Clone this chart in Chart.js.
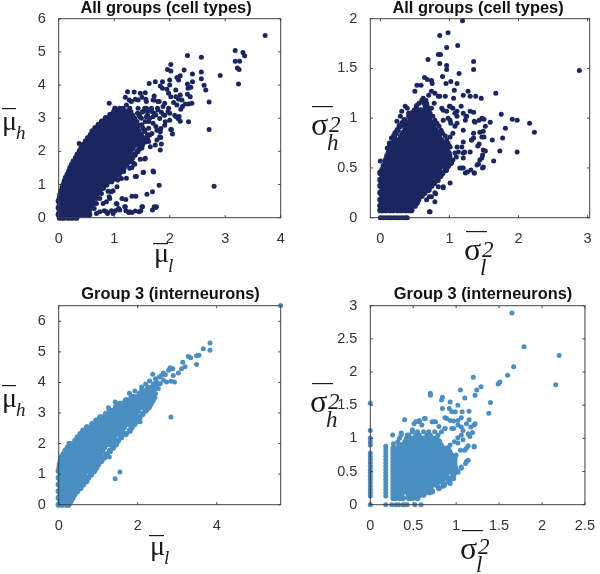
<!DOCTYPE html>
<html>
<head>
<meta charset="utf-8">
<script src="https://cdn.jsdelivr.net/npm/chart.js@4"></script>
<style>
  body { margin: 0; background: #fff; }
  canvas { position: absolute; }
</style>
</head>
<body>
<canvas id="c1" width="300" height="287" style="left:0;top:0"></canvas>
<canvas id="c2" width="300" height="287" style="left:300px;top:0"></canvas>
<canvas id="c3" width="300" height="287" style="left:0;top:287px"></canvas>
<canvas id="c4" width="300" height="287" style="left:300px;top:287px"></canvas>
<script>
// dense rows are [y, x, x, x...], estimated from the solid blobs; sparse points are [x, y]
const allMuRows = [
  [0, .02,.09,.17,.24,.32],
  [.1, 0,.06,.13,.21,.28,.36,.43,.5,.55],
  [.2, .02,.09,.17,.24,.32,.39,.47,.54],
  [.3, 0,.06,.13,.21,.28,.36,.43,.51,.57],
  [.4, .02,.09,.17,.24,.32,.39,.47,.54,.58],
  [.5, 0,.06,.13,.21,.28,.36,.43,.51,.6],
  [.6, .02,.09,.17,.24,.32,.39,.47,.54,.63],
  [.7, .03,.06,.13,.21,.28,.36,.43,.51,.58,.67],
  [.8, .05,.09,.17,.24,.32,.39,.47,.54,.62,.72],
  [.9, .07,.13,.21,.28,.36,.43,.51,.58,.66,.73,.8],
  [1, .09,.17,.24,.32,.39,.47,.54,.62,.69,.77,.86],
  [1.1, .11,.13,.21,.28,.36,.43,.51,.58,.66,.73,.81,.88,.95],
  [1.2, .13,.17,.24,.32,.39,.47,.54,.62,.69,.77,.84,.92,1],
  [1.3, .16,.21,.28,.36,.43,.51,.58,.66,.73,.81,.88,.96,1.03,1.08],
  [1.4, .19,.24,.32,.39,.47,.54,.62,.69,.77,.84,.92,.99,1.07,1.12],
  [1.5, .21,.28,.36,.43,.51,.58,.66,.73,.81,.88,.96,1.03,1.11,1.17],
  [1.6, .24,.32,.39,.47,.54,.62,.69,.77,.84,.92,.99,1.07,1.14,1.22],
  [1.7, .27,.36,.43,.51,.58,.66,.73,.81,.88,.96,1.03,1.11,1.18,1.27],
  [1.8, .31,.39,.47,.54,.62,.69,.77,.84,.92,.99,1.07,1.14,1.22,1.32],
  [1.9, .34,.43,.51,.58,.66,.73,.81,.88,.96,1.03,1.11,1.18,1.26,1.37],
  [2, .38,.47,.54,.62,.69,.77,.84,.92,.99,1.07,1.14,1.22,1.29,1.42],
  [2.1, .41,.51,.58,.66,.73,.81,.88,.96,1.03,1.11,1.18,1.26,1.33,1.46],
  [2.2, .45,.54,.62,.69,.77,.84,.92,.99,1.07,1.14,1.22,1.29,1.37,1.44,1.5],
  [2.3, .49,.58,.66,.73,.81,.88,.96,1.03,1.11,1.18,1.26,1.33,1.41,1.48,1.55],
  [2.4, .53,.62,.69,.77,.84,.92,.99,1.07,1.14,1.22,1.29,1.37,1.44,1.52],
  [2.5, .58,.66,.73,.81,.88,.96,1.03,1.11,1.18,1.26,1.33,1.41,1.48],
  [2.6, .61,.69,.77,.84,.92,.99,1.07,1.14,1.22,1.29,1.37,1.44],
  [2.7, .66,.73,.81,.88,.96,1.03,1.11,1.18,1.26,1.33,1.41],
  [2.8, .72,.77,.84,.92,.99,1.07,1.14,1.22,1.29,1.37],
  [2.9, .78,.81,.88,.96,1.03,1.11,1.18,1.26,1.33],
  [3, .85,.92,.99,1.07,1.14,1.22,1.29],
  [3.1, .93,.96,1.03,1.11,1.18,1.26],
  [3.2, 1,1.07,1.14,1.22]
];
const allMuSparse = [
  [3.72,5.49],[3.18,5.04],[3.32,4.98],[3.35,4.88],[3.18,4.72],[3.26,4.72],[3.22,4.51],[3.25,4.47],[3.24,4.03],
  [2.91,4.29],[2.57,4.84],[2.57,4.39],[2.57,4.19],[2.32,4.89],[2.02,4.62],[1.96,4.47],[2.02,4.42],[2.26,4.45],
  [2.41,4.33],[2.19,4.28],[2.13,4.23],[2.16,4.15],[2.62,3.99],[2.65,3.85],[2.71,3.49],[2.71,2.66],[2.8,.95],
  [2.32,4.03],[2.41,4.1],[2.33,3.9],[2.38,3.93],[2.32,3.72],[2.37,3.65],[2.22,3.55],[2.16,3.57],[2.4,3.45],
  [2.34,3.43],[2.28,3.43],[2.23,3.35],[2.2,3.27],[2.13,3.4],[2.07,3.47],[2.02,3.65],[1.98,3.75],[1.95,3.87],
  [1.87,4.1],[1.83,3.97],[1.74,4.1],[1.63,4.05],[2,4.15],[1.87,3.9],[2,4],[2.11,3.85],[2.19,3.7],[2.11,3.65],
  [1.24,3.8],[1.36,3.79],[1.47,3.75],[1.56,3.77],[1.5,3.63],[1.2,3.63],[1.27,3.55],[1.38,3.57],[1.57,3.57],
  [1.72,3.67],[1.72,3.55],[1.81,3.5],[1.91,3.45],[1.98,3.3],[2,3.15],[2.11,3.05],[2.17,3.05],[2.19,2.91],
  [2.34,2.89],[2.02,2.66],[2.05,2.52],[1.89,3.1],[1.92,2.89],[1.84,2.69],[1.83,2.59],[1.84,2.42],[1.85,2.22],
  [1.83,2.04],[1.56,1.79],[1.53,1.37],[1.71,1.38],[1.81,.98],[1.69,.78],[1.59,.71],[1.32,.65],[1.39,.65],
  [1.21,.55],[1.14,.58],[1.72,.33],[1.75,.31],[1.69,.23],[1.5,.33],[1.48,.21],[1.38,.2],[1.32,.16],[1.26,.16],
  [1.2,.33],[1.21,.21],[1.05,.41],[1.08,.28],[1.02,.21],[.95,.21],[.88,.13],[.82,.21],[.74,.18],[.68,.13],
  [.98,.81],[.89,.8],[.91,.63],[.86,.48],[.74,.58],[.68,.43],[.71,.73],[.64,.28],[1.22,1.19],[1.17,1.39],
  [1.38,1.24],[1.32,1.51],[1.35,1.64],[1.47,1.76],[1.65,2.14],[1.74,2.19],[1.77,2.34],[1.68,2.54],[1.77,2.64],
  [1.06,1.14],[1.05,.93],[.91,3.45],[1.01,3.3],[1.22,3.4],[1.31,3.5],[1.43,3.55],[1.58,3.5],[1.7,3.55],[1.79,3.5],
  [1.88,3.35],[1.97,3.2],[2.09,3.09],[2.15,2.99],[1.43,3.3],[1.55,3.3],[1.67,3.3],[1.79,3.25],[1.91,3.09],[2,2.94],
  [1.82,2.99],[1.7,3.04],[1.58,3.04],[1.46,3.04],[1.34,3.04],[1.91,2.79],[1.79,2.64],[2.03,2.66],[1.82,2.44],
  [1.64,2.49],[1.55,2.64],[1.46,2.79],[1.34,2.89],[1.55,1.77],[1.7,1.41],[1.52,1.36],[1.37,1.61],[1.28,1.49],
  [1.16,1.42],[1.4,1.24],[1.13,1.18],[.95,.78],[.77,.73],[.68,.58],[1.76,.33],[1.51,.33],[1.45,.18],[1.28,.18],
  [1.19,.33],[1.1,.23],[1.04,.43],[.92,.58],[.8,.43],[.98,.13],[.86,.18],[.65,.43],[.37,2.24],[1.62,2.7],[1.7,2.85],
  [1.62,2.9],[1.75,2.75],[1.6,3.2],[1.72,3.15],[1.85,3.18],[1.5,3.18],[1.42,3.15],[1.58,2.4],[1.62,2.3],[1.5,2.1],
  [1.02,3.3],[1.1,3.3],[1.16,3.3],[1.28,3.3],[1.58,3.3],[1.78,3.3],[1.3,3.2],[1.52,3.2],[1.68,3.2],[1.33,3.1],[1.45,3.1],
  [1.6,3.1],[1.75,3.1],[1.37,3],[1.49,3],[1.64,3],[1.41,2.9],[1.56,2.9],[1.5,2.8],[1.52,2.7],[1.55,2.6],[1.6,2.5],[1.6,2.4]
];

const allVarRows = [
  [.075, 0,.03,.08,.14,.19,.25,.3,.36,.41,.45],
  [.12, 0,.05,.11,.16,.22,.27,.33,.38,.44,.5],
  [.15, .03,.08,.14,.19,.25,.3,.36,.41,.47,.53],
  [.18, 0,.05,.11,.16,.22,.27,.33,.38,.44,.49,.55],
  [.22, .03,.08,.14,.19,.25,.3,.36,.41,.47,.52,.6],
  [.25, 0,.05,.11,.16,.22,.27,.33,.38,.44,.49,.55,.64],
  [.28, .03,.08,.14,.19,.25,.3,.36,.41,.47,.52,.58,.63,.7],
  [.32, 0,.05,.11,.16,.22,.27,.33,.38,.44,.49,.55,.6,.66,.74],
  [.35, .03,.08,.14,.19,.25,.3,.36,.41,.47,.52,.58,.63,.69,.78],
  [.38, 0,.05,.11,.16,.22,.27,.33,.38,.44,.49,.55,.6,.66,.71,.77,.83],
  [.42, .03,.08,.14,.19,.25,.3,.36,.41,.47,.52,.58,.63,.69,.74,.8,.87],
  [.45, 0,.05,.11,.16,.22,.27,.33,.38,.44,.49,.55,.6,.66,.71,.77,.82,.9],
  [.48, .03,.08,.14,.19,.25,.3,.36,.41,.47,.52,.58,.63,.69,.74,.8,.85,.95],
  [.52, .05,.11,.16,.22,.27,.33,.38,.44,.49,.55,.6,.66,.71,.77,.82,.88,.93,.98],
  [.55, .08,.14,.19,.25,.3,.36,.41,.47,.52,.58,.63,.69,.74,.8,.85,.91,.96,1.02],
  [.58, .08,.11,.16,.22,.27,.33,.38,.44,.49,.55,.6,.66,.71,.77,.82,.88,.93,.99],
  [.62, .1,.14,.19,.25,.3,.36,.41,.47,.52,.58,.63,.69,.74,.8,.85,.91,.96,1],
  [.65, .12,.16,.22,.27,.33,.38,.44,.49,.55,.6,.66,.71,.77,.82,.88,.93,.99],
  [.68, .13,.19,.25,.3,.36,.41,.47,.52,.58,.63,.69,.74,.8,.85,.91,.96],
  [.72, .15,.22,.27,.33,.38,.44,.49,.55,.6,.66,.71,.77,.82,.88,.93],
  [.75, .18,.25,.3,.36,.41,.47,.52,.58,.63,.69,.74,.8,.85,.91],
  [.78, .2,.27,.33,.38,.44,.49,.55,.6,.66,.71,.77,.82,.88],
  [.82, .2,.3,.36,.41,.47,.52,.58,.63,.69,.74,.8,.85],
  [.85, .22,.33,.38,.44,.49,.55,.6,.66,.71,.77,.82],
  [.88, .25,.36,.41,.47,.52,.58,.63,.69,.74,.8],
  [.92, .28,.38,.44,.49,.55,.6,.66,.71,.77],
  [.95, .32,.41,.47,.52,.58,.63,.69,.74],
  [.98, .35,.44,.49,.55,.6,.66,.71],
  [1.02, .42,.47,.52,.58,.63,.69],
  [1.05, .45,.49,.55,.6,.66],
  [1.08, .5,.58,.63]
];
const allVarSparse = [
  [2.88,1.48],[1.19,1.98],[.98,1.86],[.86,1.83],[1.12,1.73],[.96,1.71],[.84,1.64],[.87,1.64],[.69,1.59],[1.35,1.57],
  [.86,1.55],[.96,1.53],[.96,1.49],[1.35,1.49],[1.14,1.45],[.9,1.42],[.64,1.41],[.68,1.39],[.74,1.38],[.75,1.35],
  [.95,1.35],[1.02,1.37],[1.11,1.35],[.53,1.33],[.59,1.33],[.5,1.27],[1.07,1.28],[1.27,1.27],[1.67,1.25],[1.2,1.23],
  [1.3,1.22],[1.38,1.22],[1.46,1.2],[1.06,1.2],[.94,1.22],[.86,1.22],[.79,1.25],[.74,1.27],[1.17,1.12],[1.05,1.1],
  [1,1.12],[.89,1.1],[1.3,1.07],[1.35,1.06],[1.11,1.07],[.96,1.07],[1.75,1.04],[1.24,1.02],[1.11,1.02],[1.47,1],
  [1.43,.98],[1.5,.99],[1.91,.99],[1.98,.98],[2.16,.95],[2.23,.86],[1.81,.9],[1.59,.96],[1.36,.97],[1.23,.98],
  [1.52,.92],[1.2,.88],[1.49,.87],[1.35,.85],[1.77,.8],[1.62,.78],[1.47,.81],[1.5,.81],[1.35,.8],[1.32,.78],
  [1.43,.74],[1.41,.72],[1.73,.67],[1.98,.66],[1.52,.67],[1.48,.63],[1.64,.57],[1.44,.58],[1.42,.54],[1.48,.5],
  [1.36,.45],[1.31,.48],[1.26,.46],[1.2,.5],[1.15,.5],[1.23,.45],[1.3,.66],[1.2,.65],[1.2,.6],[1.13,.66],[1.18,.71],
  [1.2,.76],[1.11,.71],[1.1,.61],[.71,.06],[0,.57],[.07,.57],[0,.46],[.14,.73],[.24,.97],[.36,1.12],[.39,1.1],
  [.79,.16],[.79,.25],[1.01,.35],[.91,.31],[.84,.31],[.74,.21],[.67,.18],[1.05,.85],[1.08,.92],[1.02,.95],[.98,1],
  [.31,1.07],[.29,1.02],[.33,.93],[.41,1.05],[.53,1.13],[.55,1.08],[.62,1.2],[.7,1.23],[.65,1.12],[.74,1.1],[.84,1.22],
  [.91,1.08],[1.01,1.12],[1.08,1.05],[.91,.98],[1.01,.98],[1.11,.95],[1.2,1.05],[1.25,1.02],[1.37,.96],[1.44,.86],
  [1.32,.78],[1.49,.68],[1.22,.66],[1.47,.6],[1.49,.51],[1.4,.53],[1.18,.5],[1.36,.45],[1.01,.81],[1.01,.71],[1.08,.65],
  [1.03,.56],[.94,.48],[.82,.39],[.91,.3],[.8,.24],[.72,.06],[.71,.21],[.12,.65],[.16,.8],[.13,.75],[.1,.7],[.78,1.15],
  [.56,1.15],[.63,1.15],[.67,1.15],[.6,1.18],[.66,1.18],[.52,1.12],[.68,1.12],[.7,1.08],[.72,1.05],[.76,1.02],[.79,.98],
  [.82,.95],[.85,.92],[.88,.88],[.9,.85],[.94,.82],[.96,.78],[.98,.75],[1,.72],[1.05,.58],[1.02,.55],
  [0,0],[.04,0],[.08,0],[.12,0],[.16,0],[.2,0],[.24,0],[.28,0],[.32,0],[.36,0],[.39,0]
];

const g3MuRows = [
  [0, 0,.1,.2,.25],
  [.11, .05,.15,.25,.3],
  [.22, 0,.1,.2,.3,.35],
  [.33, .05,.15,.25,.35,.4],
  [.44, 0,.1,.2,.3,.4,.47],
  [.55, .05,.15,.25,.35,.45,.55],
  [.66, 0,.1,.2,.3,.4,.5,.62],
  [.77, .05,.15,.25,.35,.45,.55,.7],
  [.88, 0,.1,.2,.3,.4,.5,.6,.75],
  [.99, .05,.15,.25,.35,.45,.55,.65,.82],
  [1.1, 0,.1,.2,.3,.4,.5,.6,.7,.8,.9],
  [1.21, .02,.15,.25,.35,.45,.55,.65,.75,.85,.95],
  [1.32, .03,.1,.2,.3,.4,.5,.6,.7,.8,.9,1],
  [1.43, .05,.15,.25,.35,.45,.55,.65,.75,.85,.95,1.08],
  [1.54, .07,.2,.3,.4,.5,.6,.7,.8,.9,1,1.15],
  [1.65, .12,.25,.35,.45,.55,.65,.75,.85,.95,1.05,1.22],
  [1.76, .17,.3,.4,.5,.6,.7,.8,.9,1,1.1,1.3],
  [1.87, .23,.35,.45,.55,.65,.75,.85,.95,1.05,1.15,1.38],
  [1.98, .3,.4,.5,.6,.7,.8,.9,1,1.1,1.2,1.3,1.45],
  [2.09, .42,.55,.65,.75,.85,.95,1.05,1.15,1.25,1.35,1.5],
  [2.2, .48,.6,.7,.8,.9,1,1.1,1.2,1.3,1.4,1.58],
  [2.31, .55,.65,.75,.85,.95,1.05,1.15,1.25,1.35,1.45,1.55,1.7],
  [2.42, .62,.7,.8,.9,1,1.1,1.2,1.3,1.4,1.5,1.6,1.8],
  [2.53, .72,.85,.95,1.05,1.15,1.25,1.35,1.45,1.55,1.65,1.85],
  [2.64, .85,.9,1,1.1,1.2,1.3,1.4,1.5,1.6,1.7,1.8,1.92],
  [2.75, .95,1.05,1.15,1.25,1.35,1.45,1.55,1.65,1.75,1.85,2],
  [2.86, 1.05,1.1,1.2,1.3,1.4,1.5,1.6,1.7,1.8,1.9,2.05],
  [2.97, 1.2,1.25,1.35,1.45,1.55,1.65,1.75,1.85,1.95,2.12],
  [3.08, 1.3,1.4,1.5,1.6,1.7,1.8,1.9,2,2.2],
  [3.19, 1.45,1.55,1.65,1.75,1.85,1.95,2.05,2.15,2.28],
  [3.3, 1.55,1.6,1.7,1.8,1.9,2,2.1,2.2,2.33],
  [3.41, 1.7,1.75,1.85,1.95,2.05,2.15,2.25,2.38],
  [3.52, 1.85,1.9,2,2.1,2.2,2.3,2.42],
  [3.63, 2.05,2.15,2.25,2.35]
];
const g3MuSparse = [
  [5.62,6.52],[3.83,5.29],[3.83,5.05],[3.66,5.1],[3.55,4.89],[3.49,4.87],[3.49,4.59],[3.28,4.85],[3.34,4.81],[3.14,4.66],
  [3.2,4.51],[3.11,4.45],[3.03,4.31],[2.89,4.45],[2.82,4.48],[2.38,4.27],[2.78,4.4],[2.65,4.31],[2.6,4.23],[2.9,4.23],
  [2.84,4.04],[2.93,4.01],[2.73,4.01],[2.84,2.87],[1.55,1.07],[1.43,.85],[2.06,2.71],[2.02,2.81],[2.23,3.11],[1.43,3.36],
  [1.26,3.17],[1.79,3.65],[1.93,3.72],[2.48,4.01],[2.57,3.96],[2.65,4.07],[2.4,3.85],[2.52,3.8],[1.22,1.61],[1.28,1.56],
  [.26,2],[.71,2.54],[.08,1.59],[2.1,3.85],[2.2,3.95],[2.3,4.05],[2.45,4.12],[2.55,4.18],[2.7,4.25],
  [2.1,3.74],[2.2,3.74],[2.3,3.74],[2.42,3.74],[2.25,3.85],[2.35,3.85],[2.45,3.85],[2.4,3.96],[2.5,3.96],[2.45,3.63]
];

const g3VarRows = [
  [.1, .27,.29,.34,.38,.45,.49,.55],
  [.15, .27,.32,.36,.45,.49,.53,.57,.62],
  [.2, .27,.29,.34,.38,.42,.47,.51,.55,.59,.64,.72],
  [.25, .27,.32,.36,.4,.45,.49,.53,.57,.62,.66,.7,.8],
  [.3, .27,.29,.34,.38,.42,.47,.51,.55,.59,.64,.68,.72,.77,.86],
  [.35, .27,.32,.36,.4,.45,.49,.53,.57,.62,.66,.7,.75,.79,.83,.92],
  [.4, .27,.29,.34,.38,.42,.47,.51,.55,.59,.64,.68,.72,.77,.81,.85,.9,.95],
  [.45, .27,.32,.36,.4,.45,.49,.53,.57,.62,.66,.7,.75,.79,.83,.88,.97],
  [.5, .27,.29,.34,.38,.42,.47,.51,.55,.59,.64,.68,.72,.77,.81,.85,.9,.94,.98],
  [.55, .27,.32,.36,.4,.45,.49,.53,.57,.62,.66,.7,.75,.79,.83,.88,.92,.99],
  [.6, .27,.29,.34,.38,.42,.47,.51,.55,.59,.64,.68,.72,.77,.81,.85,.9,.95,.98],
  [.65, .27,.32,.36,.4,.45,.49,.53,.57,.62,.66,.7,.75,.79,.83,.88,.92,.98],
  [.7, .27,.29,.34,.38,.42,.47,.51,.55,.59,.64,.68,.72,.77,.81,.85,.9,.94,.98],
  [.75, .27,.32,.36,.4,.45,.49,.53,.57,.62,.66,.7,.75,.79,.83,.88,.94],
  [.8, .27,.29,.34,.38,.42,.47,.51,.55,.59,.64,.68,.72,.77,.81,.85,.92],
  [.85, .27,.32,.36,.4,.45,.49,.53,.57,.62,.66,.7,.75,.79,.85,.9],
  [.9, .34,.38,.42,.47,.51,.55,.59,.64,.68,.72,.77,.82],
  [.95, .45,.49,.53,.57,.62,.66,.7,.75,.8],
  [1, .51,.55,.59,.64,.68,.72,.77]
];
const g3VarSparse = [
  [1.65,2.89],[1.79,2.38],[2.2,2.25],[2.16,1.81],[1.67,2.08],[1.6,1.95],[1.51,1.85],[1.49,1.82],[1.2,1.92],[1.29,1.78],
  [1.24,1.73],[1.05,1.73],[1.1,1.61],[1.22,1.65],[.7,1.68],[.7,1.65],[.84,1.62],[.83,1.58],[.93,1.55],[1.4,1.54],
  [1.02,1.5],[1.38,1.38],[.84,1.45],[.92,1.45],[1.15,1.41],[1.07,1.4],[.95,1.4],[.99,1.4],[.4,1.28],[.63,1.3],
  [.53,1.25],[.57,1.27],[.51,1.22],[.87,1.31],[1.06,1.31],[1.02,1.27],[.93,1.27],[.97,1.26],[.72,1.25],[.76,1.25],
  [1.15,1.28],[1.12,1.22],[1.22,1.22],[1.17,1.17],[1.06,1.17],[.87,1.15],[.97,1.15],[1.14,1.07],[1.21,.87],[1.02,1.01],
  [1.08,1.12],[1.19,1.09],[1.08,.98],[1.14,.89],[1.1,.82],[1.05,.82],[1.14,.67],[1.11,.62],[1.06,.57],[1.02,.49],
  [.98,.59],[.97,.39],[.93,.32],[.86,.32],[.69,.18],[.57,.19],[.53,.18],[.93,.9],[.98,.95],[1,.75],[.98,.68],
  [.26,1.05],[.36,1.08],[.43,1.05],[.49,1.13],[.57,1.25],[.64,1.3],[.6,1.2],[.74,1.25],[.8,1.18],[.87,1.15],[.95,1.15],
  [1.02,1.2],[.89,1.3],[1.21,1.2],[1.06,1.05],[1.16,1.03],[1.02,.93],[1.12,.85],[1.21,.88],[1.12,.65],[1.06,.55],[1.02,.5],
  [.85,.28],[.68,.18],[.59,.15],[.27,.92],[.32,.95],[.4,.95],[.34,1],[.42,1],[.47,1],[.36,1.05],[.45,1.05],[.53,1.05],
  [.57,1.05],[.66,1.05],[.7,1.05],[.79,1.05],[.49,1.1],[.55,1.1],[.62,1.1],[.68,1.1],[.75,1.1],[.83,1.1],
  [0,1.53],[0,1.12],[0,1],[0,.95],[0,.9],[0,.78],[0,.73],[0,.68],[0,.63],[0,.58],[0,.53],[0,.48],[0,.43],[0,.38],[0,.33],[0,.28],[0,.23],[0,.18],[0,.13],
  [.18,.88],[.18,.83],[.18,.78],[.18,.73],[.18,.68],[.18,.63],[.18,.58],[.18,.53],[.18,.48],[.18,.43],[.18,.38],[.18,.33],[.18,.28],[.18,.23],[.18,.18],[.18,.13],
  [0,0],[.18,0],[.25,0],[.3,0],[.33,0],[.38,0],[.4,0],[.43,0],[.52,0],[.59,0]
];

const muTicksA = [0, 1, 2, 3, 4];
const muTicksB = [0, 1, 2, 3, 4, 5, 6];
const varTicksAx = [0, 1, 2, 3];
const varTicksAy = [0, 0.5, 1, 1.5, 2];
const g3MuTicksX = [0, 2, 4];
const g3VarTicksX = [0, 0.5, 1, 1.5, 2, 2.5];
const g3VarTicksY = [0, 0.5, 1, 1.5, 2, 2.5, 3];

const navy = '#1b2560';
const blue = '#4a8ec2';
const inkColor = '#333333';
const symbolFont = '"Liberation Serif"';

const rowPoints = rows => rows.flatMap(([y, ...xs]) => xs.map(x => ({ x, y })));
const pairPoints = pairs => pairs.map(([x, y]) => ({ x, y }));

// box, inner ticks, bold title and the math axis labels
const panelText = {
  id: 'panelText',
  afterDraw(chart, args, opts) {
    const ctx = chart.ctx;
    const a = chart.chartArea;
    ctx.save();
    ctx.strokeStyle = '#404040';
    ctx.lineWidth = 1;
    ctx.strokeRect(a.left, a.top, a.right - a.left, a.bottom - a.top);
    ctx.beginPath();
    chart.scales.x.ticks.forEach(t => {
      const px = chart.scales.x.getPixelForValue(t.value);
      ctx.moveTo(px, a.bottom); ctx.lineTo(px, a.bottom - 2.5);
      ctx.moveTo(px, a.top); ctx.lineTo(px, a.top + 2.5);
    });
    chart.scales.y.ticks.forEach(t => {
      const py = chart.scales.y.getPixelForValue(t.value);
      ctx.moveTo(a.left, py); ctx.lineTo(a.left + 2.5, py);
      ctx.moveTo(a.right, py); ctx.lineTo(a.right - 2.5, py);
    });
    ctx.stroke();

    ctx.fillStyle = '#111';
    ctx.textAlign = 'center';
    ctx.textBaseline = 'alphabetic';
    ctx.font = 'bold 16.4px "Liberation Sans"';
    ctx.fillText(opts.title, opts.titleX, opts.titleY);

    ctx.textAlign = 'left';
    opts.labels.forEach(l => {
      ctx.fillStyle = '#1a1a1a';
      ctx.font = l.size + 'px ' + symbolFont;
      ctx.fillText(l.sym, l.x, l.y);
      ctx.font = 'italic ' + l.subSize + 'px ' + symbolFont;
      ctx.fillText(l.sub, l.subX, l.subY);
      if (l.sup) ctx.fillText(l.sup, l.supX, l.supY);
      ctx.fillRect(l.barX, l.barY, l.barW, 1.2);
    });
    ctx.restore();
  }
};

function makePanel(id, rows, sparse, color, xRange, yRange, xTicks, yTicks, leftSpace, text) {
  const tickFont = { family: '"Liberation Sans"', size: 14.5 };
  return new Chart(document.getElementById(id), {
    type: 'scatter',
    data: {
      datasets: [
        // the overlapping mass is a bit larger so it closes up solid
        { data: rowPoints(rows), backgroundColor: color, pointBorderWidth: 0, pointRadius: 3.1, clip: false },
        { data: pairPoints(sparse), backgroundColor: color, pointBorderWidth: 0, pointRadius: 2.5, clip: false }
      ]
    },
    options: {
      responsive: false,
      animation: false,
      layout: { padding: { top: 18.7, right: leftSpace === 70.3 ? 10.3 : 19.3, left: 0, bottom: 0 } },
      plugins: { legend: { display: false }, tooltip: { enabled: false }, panelText: text },
      scales: {
        x: {
          type: 'linear', min: xRange[0], max: xRange[1],
          grid: { display: false }, border: { display: false },
          afterBuildTicks: s => { s.ticks = xTicks.map(value => ({ value })); },
          afterFit: s => { s.height = 69.3; },
          ticks: { color: inkColor, font: tickFont, padding: 5, maxRotation: 0, autoSkip: false, callback: v => String(v) }
        },
        y: {
          type: 'linear', min: yRange[0], max: yRange[1],
          grid: { display: false }, border: { display: false },
          afterBuildTicks: s => { s.ticks = yTicks.map(value => ({ value })); },
          afterFit: s => { s.width = leftSpace; },
          ticks: { color: inkColor, font: tickFont, padding: 5, autoSkip: false, callback: v => String(v) }
        }
      }
    },
    plugins: [panelText]
  });
}

makePanel('c1', allMuRows, allMuSparse, navy, [0, 4], [0, 6], muTicksA, muTicksB, 58.7, {
  title: 'All groups (cell types)', titleX: 166, titleY: 12.5,
  labels: [
    { sym: 'μ', size: 28, x: 2, y: 130, sub: 'h', subSize: 19, subX: 16, subY: 139, barX: 2, barY: 108, barW: 14 },
    { sym: 'μ', size: 28, x: 154, y: 262, sub: 'l', subSize: 19, subX: 168, subY: 272, barX: 153, barY: 243, barW: 15 }
  ]
});
makePanel('c2', allVarRows, allVarSparse, navy, [-0.145, 3.03], [0, 2], varTicksAx, varTicksAy, 70.3, {
  title: 'All groups (cell types)', titleX: 178, titleY: 12.5,
  labels: [
    { sym: 'σ', size: 32, x: 11, y: 135, sub: 'h', subSize: 23, subX: 27, subY: 150, sup: '2', supX: 29, supY: 132, barX: 12, barY: 106, barW: 21 },
    { sym: 'σ', size: 32, x: 164, y: 260, sub: 'l', subSize: 23, subX: 180, subY: 275, sup: '2', supX: 182, supY: 257, barX: 166, barY: 231, barW: 21 }
  ]
});
makePanel('c3', g3MuRows, g3MuSparse, blue, [0, 5.62], [0, 6.51], g3MuTicksX, muTicksB, 58.7, {
  title: 'Group 3 (interneurons)', titleX: 170.5, titleY: 12,
  labels: [
    { sym: 'μ', size: 28, x: 2, y: 120, sub: 'h', subSize: 19, subX: 16, subY: 129, barX: 2, barY: 98, barW: 14 },
    { sym: 'μ', size: 28, x: 150, y: 268, sub: 'l', subSize: 19, subX: 164, subY: 277, barX: 149, barY: 248, barW: 15 }
  ]
});
makePanel('c4', g3VarRows, g3VarSparse, blue, [0, 2.5], [0, 3], g3VarTicksX, g3VarTicksY, 70.3, {
  title: 'Group 3 (interneurons)', titleX: 183, titleY: 12,
  labels: [
    { sym: 'σ', size: 32, x: 10, y: 125, sub: 'h', subSize: 23, subX: 26, subY: 140, sup: '2', supX: 28, supY: 122, barX: 12, barY: 96, barW: 21 },
    { sym: 'σ', size: 32, x: 160, y: 272, sub: 'l', subSize: 23, subX: 176, subY: 285, sup: '2', supX: 178, supY: 267, barX: 162, barY: 243, barW: 21 }
  ]
});
</script>
</body>
</html>
